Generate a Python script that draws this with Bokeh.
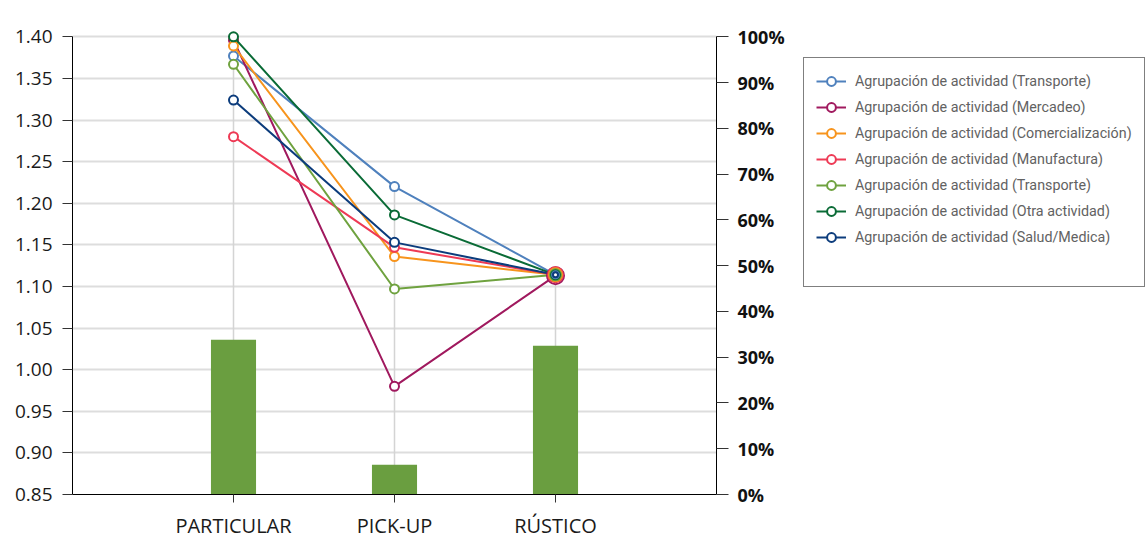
from bokeh.plotting import figure
from bokeh.layouts import row
from bokeh.models import (Range1d, LinearAxis, FixedTicker, NumeralTickFormatter,
                          Legend, LegendItem)
from bokeh.embed import file_html
from bokeh.resources import INLINE

# Vehicle categories along the x axis
categories = ["PARTICULAR", "PICK-UP", "RÚSTICO"]

# Share of each category (right axis, bars)
share = [0.338, 0.065, 0.325]

# Index per activity group (left axis, lines)
transporte = [1.377, 1.220, 1.114]
mercadeo = [1.396, 0.980, 1.113]
comercializacion = [1.389, 1.136, 1.114]
manufactura = [1.280, 1.147, 1.114]
transporte_2 = [1.367, 1.097, 1.114]
otra_actividad = [1.400, 1.186, 1.114]
salud_medica = [1.324, 1.153, 1.114]

left_ticks = [0.85, 0.90, 0.95, 1.00, 1.05, 1.10, 1.15, 1.20, 1.25, 1.30, 1.35, 1.40]
right_ticks = [0.0, 0.1, 0.2, 0.3, 0.4, 0.5, 0.6, 0.7, 0.8, 0.9, 1.0]

series = [
    ("Agrupación de actividad (Transporte)", transporte, "#4f81bd"),
    ("Agrupación de actividad (Mercadeo)", mercadeo, "#a0195e"),
    ("Agrupación de actividad (Comercialización)", comercializacion, "#f7941d"),
    ("Agrupación de actividad (Manufactura)", manufactura, "#ee3a55"),
    ("Agrupación de actividad (Transporte)", transporte_2, "#6fa23f"),
    ("Agrupación de actividad (Otra actividad)", otra_actividad, "#0a6b36"),
    ("Agrupación de actividad (Salud/Medica)", salud_medica, "#0c3c7c"),
]

xs = list(range(1, len(categories) + 1))
y_lo, y_hi = left_ticks[0], left_ticks[-1]
y_pad = 0.01
y_end = y_hi + y_pad
share_end = (y_end - y_lo) / (y_hi - y_lo)

CHART_W, LEGEND_W, H = 800, 347, 541

p = figure(width=CHART_W, height=H, output_backend="svg", toolbar_location=None,
           x_range=Range1d(0, len(categories) + 1), y_range=Range1d(y_lo, y_end),
           min_border_left=72, min_border_right=84, min_border_top=28,
           min_border_bottom=44)
p.outline_line_color = None
p.background_fill_color = "white"
p.border_fill_color = "white"
p.extra_y_ranges = {"share": Range1d(0, share_end)}

AXIS_FONT = "Open Sans"

# Left axis
ya = p.yaxis[0]
ya.ticker = FixedTicker(ticks=left_ticks)
ya.formatter = NumeralTickFormatter(format="0.00")
ya.bounds = (y_lo, y_hi)
ya.axis_line_color = "black"
ya.major_tick_line_color = "#333333"
ya.major_tick_out = 10
ya.major_tick_in = 0
ya.minor_tick_line_color = None
ya.major_label_standoff = 10
ya.major_label_text_font = AXIS_FONT
ya.major_label_text_font_size = "19px"
ya.major_label_text_color = "#1a1a1a"

# Right axis (percentages)
ra = LinearAxis(y_range_name="share", ticker=FixedTicker(ticks=right_ticks),
                formatter=NumeralTickFormatter(format="0%"))
ra.bounds = (0, 1)
ra.axis_line_color = "black"
ra.major_tick_line_color = "#333333"
ra.major_tick_out = 12
ra.major_tick_in = 0
ra.minor_tick_line_color = None
ra.major_label_standoff = 9
ra.major_label_text_font = AXIS_FONT
ra.major_label_text_font_style = "bold"
ra.major_label_text_font_size = "18px"
ra.major_label_text_color = "#111111"
p.add_layout(ra, "right")

# Bottom axis
xa = p.xaxis[0]
xa.ticker = FixedTicker(ticks=xs)
xa.major_label_overrides = {x: c for x, c in zip(xs, categories)}
xa.axis_line_color = "black"
xa.major_tick_line_color = "#333333"
xa.major_tick_out = 8
xa.major_tick_in = 0
xa.minor_tick_line_color = None
xa.major_label_standoff = 9
xa.major_label_text_font = AXIS_FONT
xa.major_label_text_font_size = "20px"
xa.major_label_text_color = "#1a1a1a"

# Horizontal grid only
p.ygrid.ticker = FixedTicker(ticks=left_ticks)
p.ygrid.grid_line_color = "#dddddd"
p.ygrid.grid_line_width = 2
p.xgrid.visible = False

# Drop lines from the highest point of each category down to the base
tops = [max(s[1][i] for s in series) for i in range(len(xs))]
p.segment(x0=xs, y0=tops, x1=xs, y1=[y_lo] * len(xs),
          line_color="#d4d4d4", line_width=1.5)

# Bars for category share
p.vbar(x=xs, top=share, width=0.28, y_range_name="share",
       fill_color="#6a9e40", line_color=None)

# Lines and markers
for label, vals, color in series:
    p.line(xs, vals, line_color=color, line_width=2)
    p.scatter(xs[:-1], vals[:-1], size=9, marker="circle", fill_color="white",
              line_color=color, line_width=2)

# Overlapping markers at the last category, stacked as rings
ring_order = [1, 3, 2, 4, 5, 0, 6]
for k, idx in enumerate(ring_order):
    _, vals, color = series[idx]
    p.scatter([xs[-1]], [vals[-1]], size=17 - 2 * k, marker="circle",
              fill_color="white", line_color=color, line_width=2)

# Legend panel beside the chart; its ranges keep the series out of view so
# only the legend entries show
lg = figure(width=LEGEND_W, height=H, output_backend="svg", toolbar_location=None,
            min_border=0, x_axis_type=None, y_axis_type=None,
            x_range=Range1d(-3, -2), y_range=Range1d(-3, -2))
lg.outline_line_color = None
lg.grid.visible = False
lg.background_fill_color = "white"
lg.border_fill_color = "white"

items = []
for label, vals, color in series:
    lr = lg.line(xs, vals, line_color=color, line_width=2)
    sr = lg.scatter(xs, vals, size=8, marker="circle", fill_color="white",
                    line_color=color, line_width=2)
    items.append(LegendItem(label=label, renderers=[lr, sr]))

# Blank entry that leaves room at the foot of the legend box
blank = lg.line(xs, share, line_alpha=0)
items.append(LegendItem(label=" ", renderers=[blank]))

legend = Legend(items=items, location=(3, 207), margin=0, padding=12,
                spacing=4, glyph_height=22, label_height=22, glyph_width=30,
                label_standoff=9, label_text_font="Roboto",
                label_text_font_size="14.3px", label_text_color="#626262",
                border_line_color="black", border_line_width=1,
                background_fill_color="white", background_fill_alpha=1)
lg.add_layout(legend, "center")

layout = row(p, lg)
open("out.html", "w").write(file_html(layout, INLINE))
